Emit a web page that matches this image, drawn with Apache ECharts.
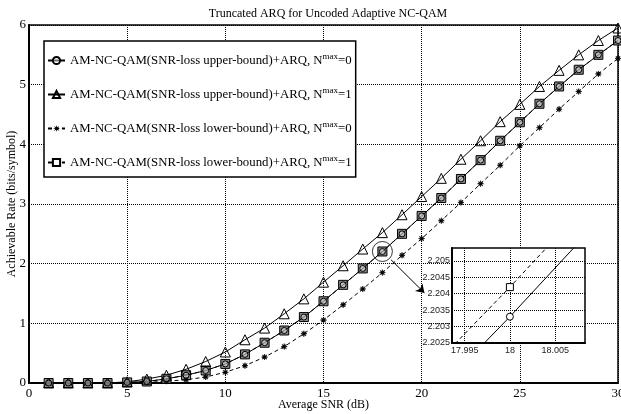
<!DOCTYPE html>
<html>
<head>
<meta charset="utf-8">
<script src="https://cdn.jsdelivr.net/npm/echarts@6/dist/echarts.min.js"></script>
<style>
html, body { margin: 0; padding: 0; background: #fff; }
#chart { width: 621px; height: 414px; }
</style>
</head>
<body>
<div id="chart"></div>
<script>
// SNR (dB) of each point
var snr = [1, 2, 3, 4, 5, 6, 7, 8, 9, 10, 11, 12, 13, 14, 15, 16, 17, 18, 19, 20, 21, 22, 23, 24, 25, 26, 27, 28, 29, 30];

// upper-bound, Nmax=0 (circles)
var upperN0 = [0, 0, 0, 0, 0.01, 0.025, 0.07, 0.13, 0.21, 0.32, 0.48, 0.675, 0.88, 1.105, 1.37, 1.645, 1.92, 2.2033, 2.5, 2.8, 3.1, 3.42, 3.735, 4.06, 4.37, 4.68, 4.97, 5.25, 5.5, 5.74];
// upper-bound, Nmax=1 (triangles)
var upperN1 = [0, 0, 0, 0, 0.02, 0.065, 0.13, 0.23, 0.36, 0.52, 0.725, 0.92, 1.16, 1.41, 1.69, 1.965, 2.245, 2.52, 2.82, 3.125, 3.43, 3.75, 4.06, 4.38, 4.67, 4.97, 5.24, 5.5, 5.74, 5.95];
// lower-bound, Nmax=0 (stars)
var lowerN0 = [0, 0, 0, 0, 0, 0.01, 0.03, 0.055, 0.1, 0.18, 0.29, 0.435, 0.61, 0.826, 1.055, 1.31, 1.575, 1.85, 2.14, 2.42, 2.72, 3.025, 3.34, 3.65, 3.975, 4.28, 4.59, 4.885, 5.18, 5.44];
// lower-bound, Nmax=1 (squares)
var lowerN1 = [0, 0, 0, 0, 0.01, 0.025, 0.07, 0.13, 0.21, 0.32, 0.48, 0.675, 0.88, 1.105, 1.37, 1.645, 1.92, 2.2042, 2.5, 2.8, 3.1, 3.42, 3.735, 4.06, 4.37, 4.68, 4.97, 5.25, 5.5, 5.74];

var names = [
    'AM-NC-QAM(SNR-loss upper-bound)+ARQ, N^max=0',
    'AM-NC-QAM(SNR-loss upper-bound)+ARQ, N^max=1',
    'AM-NC-QAM(SNR-loss lower-bound)+ARQ, N^max=0',
    'AM-NC-QAM(SNR-loss lower-bound)+ARQ, N^max=1'
];

var xTicks = [0, 5, 10, 15, 20, 25, 30];
var yTicks = [0, 1, 2, 3, 4, 5, 6];
var insetXTicks = [17.995, 18, 18.005];
var insetYTicks = [2.2025, 2.203, 2.2035, 2.204, 2.2045, 2.205];

// zoom marker and arrow (data coords)
var zoomPoint = [18, 2.2042];
var arrowFrom = [18.44, 2.065];
var arrowTo = [20.14, 1.51];

function pairs(vals) {
    return snr.map(function (s, i) { return [s, vals[i]]; });
}

var serif = '"Liberation Serif", "Times New Roman", serif';
var sans = '"Liberation Sans", Arial, sans-serif';
var star = 'path://M5,0 L1.8,0.75 L3.54,3.54 L0.75,1.8 L0,5 L-0.75,1.8 L-3.54,3.54 L-1.8,0.75 L-5,0 L-1.8,-0.75 L-3.54,-3.54 L-0.75,-1.8 L0,-5 L0.75,-1.8 L3.54,-3.54 L1.8,-0.75 Z';

var chart = echarts.init(document.getElementById('chart'));

function mainSeries(name, vals, symbol, size, dashed, fill, border, z) {
    return {
        name: name,
        type: 'line',
        data: pairs(vals),
        symbol: symbol,
        symbolSize: size,
        showAllSymbol: true,
        z: z,
        lineStyle: { color: '#000', width: 1, type: dashed ? [4, 3] : 'solid' },
        itemStyle: { color: fill, borderColor: '#000', borderWidth: border },
        emphasis: { disabled: true },
        animation: false
    };
}

function insetSeries(vals, symbol, dashed) {
    return {
        type: 'line',
        xAxisIndex: 1,
        yAxisIndex: 1,
        data: pairs(vals),
        symbol: symbol,
        symbolSize: 7,
        showAllSymbol: true,
        clip: true,
        z: 6,
        lineStyle: { color: '#000', width: 1, type: dashed ? [4, 3] : 'solid' },
        itemStyle: { color: '#fff', borderColor: '#000', borderWidth: 1 },
        emphasis: { disabled: true },
        animation: false
    };
}

var option = {
    backgroundColor: '#fff',
    animation: false,
    title: {
        text: 'Truncated ARQ for Uncoded Adaptive NC-QAM',
        left: 323,
        textAlign: 'center',
        top: 3,
        textStyle: { fontFamily: serif, fontSize: 12, fontWeight: 'normal', color: '#000' }
    },
    legend: {
        data: [
            { name: names[0] },
            { name: names[1] },
            { name: names[2], itemStyle: { borderWidth: 0 } },
            { name: names[3], itemStyle: { color: '#fff' } }
        ],
        orient: 'vertical',
        left: 44,
        top: 41,
        itemWidth: 17,
        itemHeight: 9,
        itemGap: 19,
        padding: [11, 4, 8, 3],
        backgroundColor: '#fff',
        borderColor: '#000',
        borderWidth: 1.5,
        selectedMode: false,
        formatter: function (name) {
            var parts = name.split('^max');
            return '{t|' + parts[0] + '}{s|max}{t|' + parts[1] + '}';
        },
        textStyle: {
            color: '#000',
            rich: {
                t: { fontFamily: serif, fontSize: 12.8, color: '#000' },
                s: { fontFamily: serif, fontSize: 9, color: '#000', verticalAlign: 'bottom', padding: [0, 0, 8, 0] }
            }
        }
    },
    grid: [
        { left: 29, right: 3, top: 25, bottom: 31, outerBoundsMode: 'none', show: true, borderColor: '#000', borderWidth: 1.5, backgroundColor: 'transparent' },
        { left: 452, top: 248, width: 133, height: 95, outerBoundsMode: 'none' }
    ],
    xAxis: [
        {
            type: 'value', gridIndex: 0, min: 0, max: 30, interval: 5,
            name: 'Average SNR (dB)', nameLocation: 'middle', nameGap: 16, nameMoveOverlap: false,
            nameTextStyle: { fontFamily: serif, fontSize: 12, color: '#000' },
            axisLine: { lineStyle: { color: '#000', width: 2 } },
            axisTick: { show: false },
            axisLabel: { customValues: xTicks, fontFamily: serif, fontSize: 13, color: '#000', margin: 4 },
            splitLine: { show: true, lineStyle: { color: '#000', width: 1, type: [1, 1] } }
        },
        {
            type: 'value', gridIndex: 1, min: 17.9936, max: 18.0083, z: 5,
            axisLine: { onZero: false, lineStyle: { color: '#000', width: 2 } },
            axisTick: { show: false, customValues: insetXTicks },
            axisLabel: {
                customValues: insetXTicks, fontFamily: sans, fontSize: 9, color: '#222', margin: 3,
                formatter: function (v) { return String(+v.toFixed(3)); }
            },
            splitLine: { show: true, lineStyle: { color: '#000', width: 1, type: [1, 1] } }
        }
    ],
    yAxis: [
        {
            type: 'value', gridIndex: 0, min: 0, max: 6, interval: 1,
            name: 'Achievable Rate (bits/symbol)', nameLocation: 'middle', nameGap: 11, nameMoveOverlap: false,
            nameTextStyle: { fontFamily: serif, fontSize: 12, color: '#000' },
            axisLine: { lineStyle: { color: '#000', width: 2 } },
            axisTick: { show: false },
            axisLabel: { customValues: yTicks, fontFamily: serif, fontSize: 13, color: '#000', margin: 3 },
            splitLine: { show: true, lineStyle: { color: '#000', width: 1, type: [1, 1] } }
        },
        {
            type: 'value', gridIndex: 1, min: 2.2025, max: 2.20539, z: 5,
            axisLine: { onZero: false, lineStyle: { color: '#000', width: 2 } },
            axisTick: { show: false, customValues: insetYTicks },
            axisLabel: {
                customValues: insetYTicks, fontFamily: sans, fontSize: 9, color: '#222', margin: 2,
                formatter: function (v) { return String(+v.toFixed(4)); }
            },
            splitLine: { show: true, lineStyle: { color: '#000', width: 1, type: [1, 1] } }
        }
    ],
    graphic: [
        {
            type: 'rect', z: 3,
            shape: { x: 452, y: 248, width: 133, height: 95 },
            style: { fill: '#fff', stroke: null }
        },
        {
            type: 'rect', z: 7,
            shape: { x: 452, y: 248, width: 133, height: 95 },
            style: { fill: null, stroke: '#000', lineWidth: 1.5 }
        }
    ],
    series: [
        mainSeries(names[3], lowerN1, 'rect', 9, true, '#8a8a8a', 1, 2),
        mainSeries(names[0], upperN0, 'circle', 6, false, 'rgba(255,255,255,0.45)', 1, 3),
        mainSeries(names[1], upperN1, 'triangle', 10, false, 'rgba(0,0,0,0)', 1, 2),
        mainSeries(names[2], lowerN0, star, 6, true, '#000', 0.6, 2),
        {
            type: 'scatter',
            data: [zoomPoint],
            symbol: 'circle',
            symbolSize: 20,
            z: 4,
            itemStyle: { color: 'rgba(0,0,0,0)', borderColor: '#000', borderWidth: 1 },
            emphasis: { disabled: true },
            markLine: {
                silent: true,
                symbol: ['none', 'arrow'],
                symbolSize: 8,
                label: { show: false },
                lineStyle: { color: '#000', width: 1, type: 'solid' },
                data: [[{ coord: arrowFrom }, { coord: arrowTo }]]
            }
        },
        insetSeries(lowerN1, 'rect', true),
        insetSeries(upperN0, 'circle', false)
    ]
};

chart.setOption(option);
</script>
</body>
</html>
